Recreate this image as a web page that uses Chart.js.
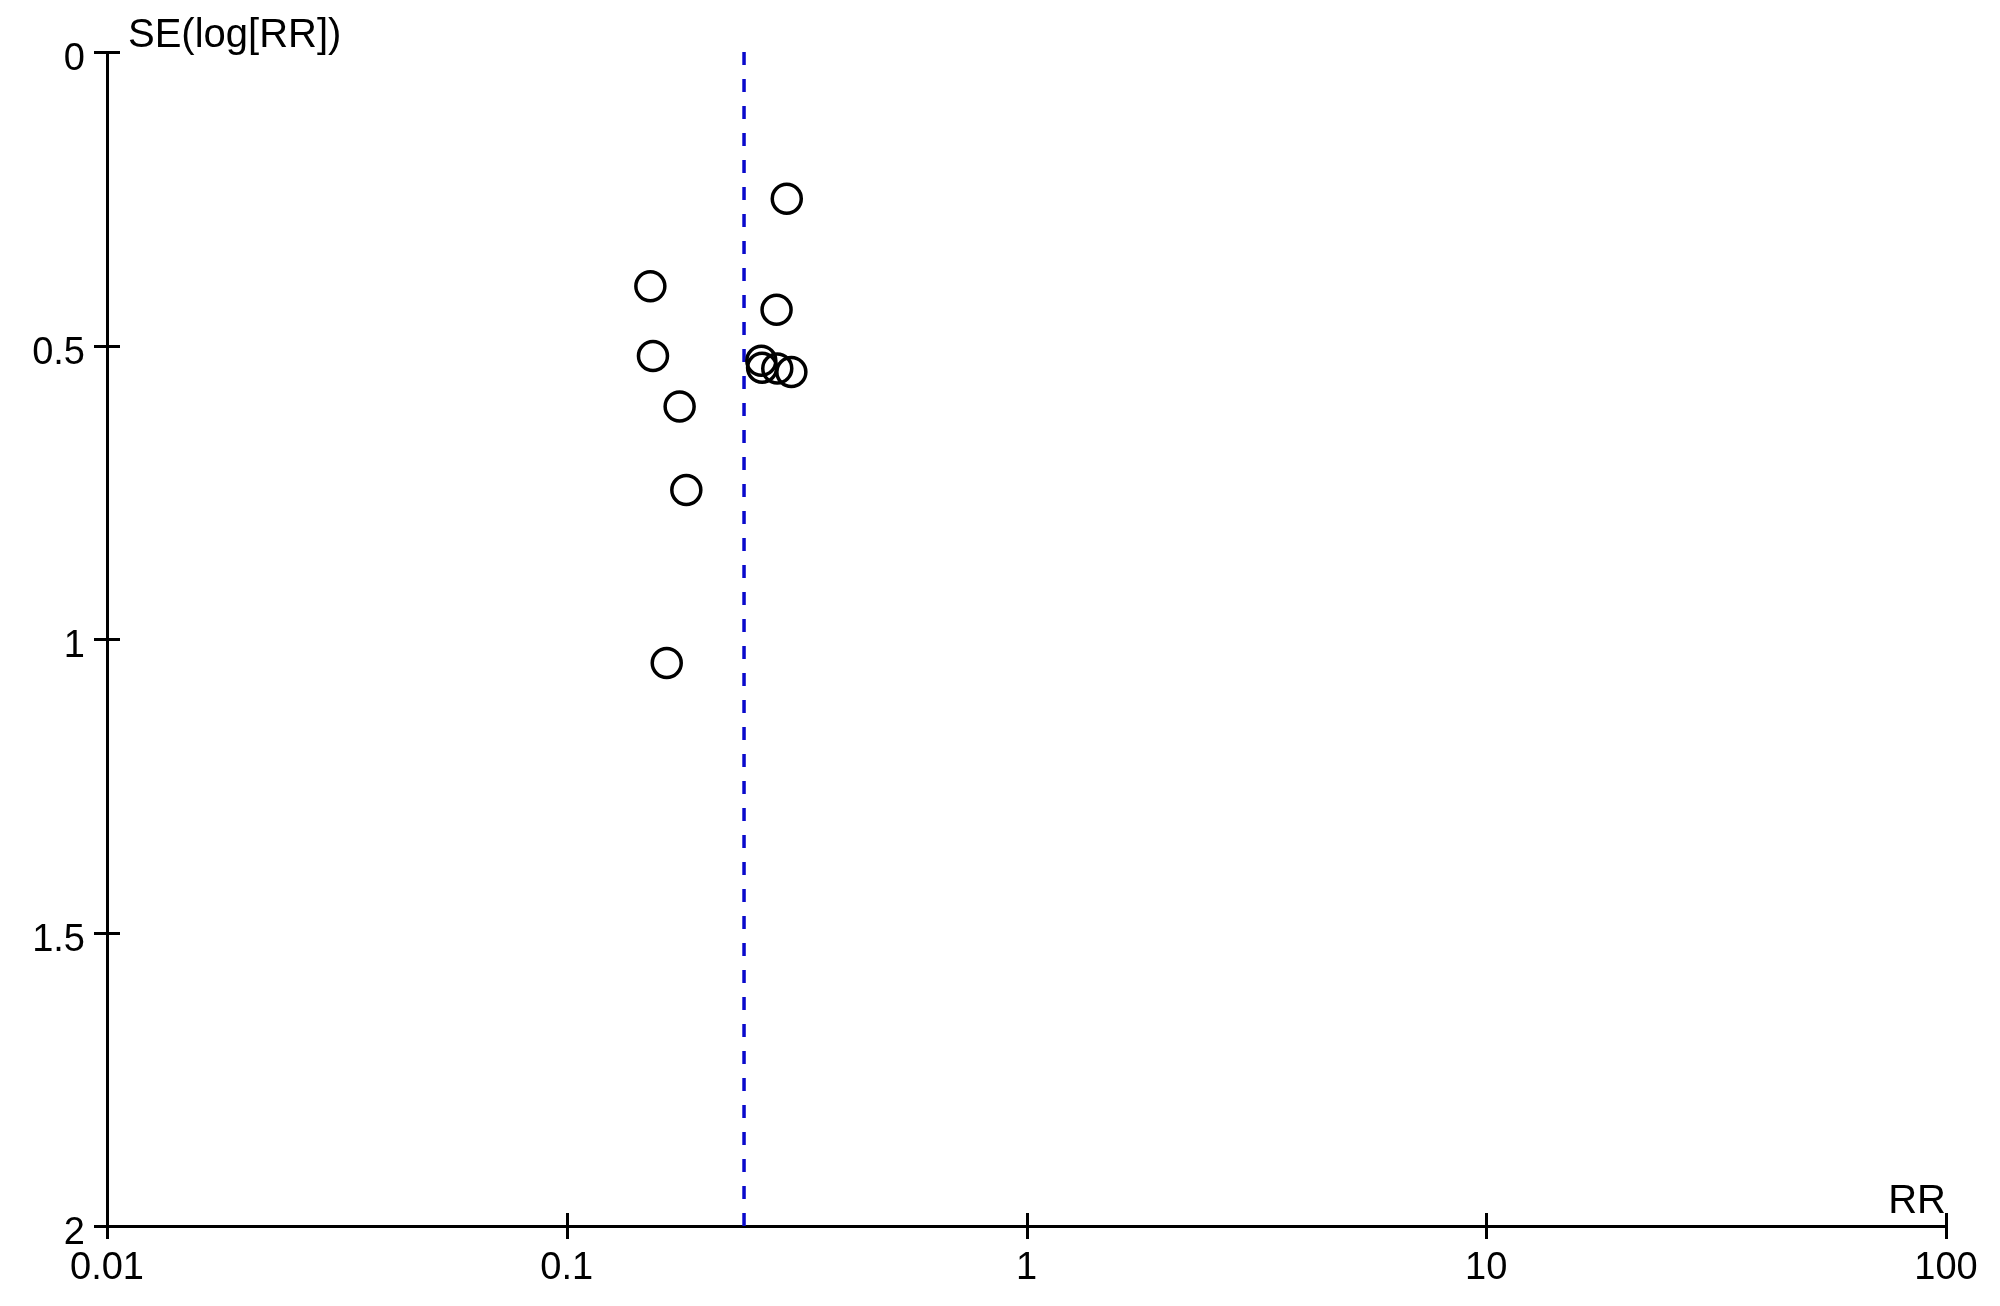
<!DOCTYPE html>
<html>
<head>
<meta charset="utf-8">
<script src="https://cdn.jsdelivr.net/npm/chart.js@4.4.1/dist/chart.umd.min.js"></script>
<style>
  html, body { margin: 0; padding: 0; background: #fff; }
  #wrap { width: 2000px; height: 1306px; }
</style>
</head>
<body>
<div id="wrap"><canvas id="funnel" width="2000" height="1306"></canvas></div>
<script>
// ── Data ────────────────────────────────────────────
const studyRR = [0.301, 0.152, 0.286, 0.154, 0.265, 0.266, 0.287, 0.308, 0.176, 0.182, 0.165];
const studySE = [0.250, 0.399, 0.439, 0.518, 0.526, 0.538, 0.539, 0.545, 0.604, 0.746, 1.041];
const pooledRR = 0.243;
const pooledSE = [0, 2];

const xTicks = [0.01, 0.1, 1, 10, 100];
const xTickLabels = ['0.01', '0.1', '1', '10', '100'];
const yTicks = [0, 0.5, 1, 1.5, 2];
const yTickLabels = ['0', '0.5', '1', '1.5', '2'];

const xTitle = 'RR';
const yTitle = 'SE(log[RR])';

const FONT = '"Liberation Sans", Arial, sans-serif';

// ── Ticks that cross the axis lines + axis titles ───
const crossTicks = {
  id: 'crossTicks',
  afterDraw(chart) {
    const { ctx, chartArea: a, scales: { x, y } } = chart;
    const len = 13;
    ctx.save();
    ctx.strokeStyle = '#000';
    ctx.lineWidth = 3;
    ctx.beginPath();
    yTicks.forEach(v => {
      const py = Math.round(y.getPixelForValue(v)) + 0.5;
      ctx.moveTo(a.left - len, py);
      ctx.lineTo(a.left + len, py);
    });
    xTicks.forEach(v => {
      const px = Math.round(x.getPixelForValue(v)) + 0.5;
      ctx.moveTo(px, a.bottom - len);
      ctx.lineTo(px, a.bottom + len);
    });
    ctx.stroke();

    ctx.fillStyle = '#000';
    ctx.font = '40px ' + FONT;
    ctx.textBaseline = 'alphabetic';
    ctx.textAlign = 'left';
    ctx.fillText(yTitle, a.left + 21, a.top - 5);
    ctx.textAlign = 'right';
    ctx.fillText(xTitle, a.right, a.bottom - 13);
    ctx.restore();
  }
};

new Chart(document.getElementById('funnel').getContext('2d'), {
  type: 'scatter',
  data: {
    datasets: [
      {
        label: 'Studies',
        data: studyRR.map((r, i) => ({ x: r, y: studySE[i] })),
        pointStyle: 'circle',
        pointRadius: 14.5,
        pointBorderWidth: 3.5,
        pointBorderColor: '#000',
        pointBackgroundColor: 'rgba(0,0,0,0)',
        showLine: false,
        clip: false,
      },
      {
        label: 'Pooled RR',
        type: 'line',
        data: pooledSE.map(s => ({ x: pooledRR, y: s })),
        borderColor: '#0a0acc',
        borderWidth: 3.5,
        borderDash: [13, 14],
        pointRadius: 0,
        fill: false,
      }
    ]
  },
  options: {
    responsive: false,
    animation: false,
    devicePixelRatio: 1,
    layout: { padding: { top: 52, right: 54, left: 0, bottom: 0 } },
    plugins: {
      legend: { display: false },
      tooltip: { enabled: false },
    },
    scales: {
      x: {
        type: 'logarithmic',
        position: 'bottom',
        min: 0.01, max: 100,
        afterBuildTicks: s => { s.ticks = xTicks.map(v => ({ value: v })); },
        afterFit: s => { s.height = 80; },
        grid: { display: false, drawTicks: false },
        border: { display: true, color: '#000', width: 3 },
        ticks: {
          color: '#000',
          font: { size: 38, family: FONT },
          padding: 20,
          maxRotation: 0,
          autoSkip: false,
          callback: v => xTickLabels[xTicks.indexOf(v)] ?? '',
        },
      },
      y: {
        type: 'linear',
        reverse: true,
        min: 0, max: 2,
        afterBuildTicks: s => { s.ticks = yTicks.map(v => ({ value: v })); },
        afterFit: s => { s.width = 107; },
        grid: { display: false, drawTicks: false },
        border: { display: true, color: '#000', width: 3 },
        ticks: {
          color: '#000',
          font: { size: 38, family: FONT },
          padding: 22,
          labelOffset: 8,
          autoSkip: false,
          callback: v => yTickLabels[yTicks.indexOf(v)] ?? '',
        },
      }
    }
  },
  plugins: [crossTicks]
});
</script>
</body>
</html>
